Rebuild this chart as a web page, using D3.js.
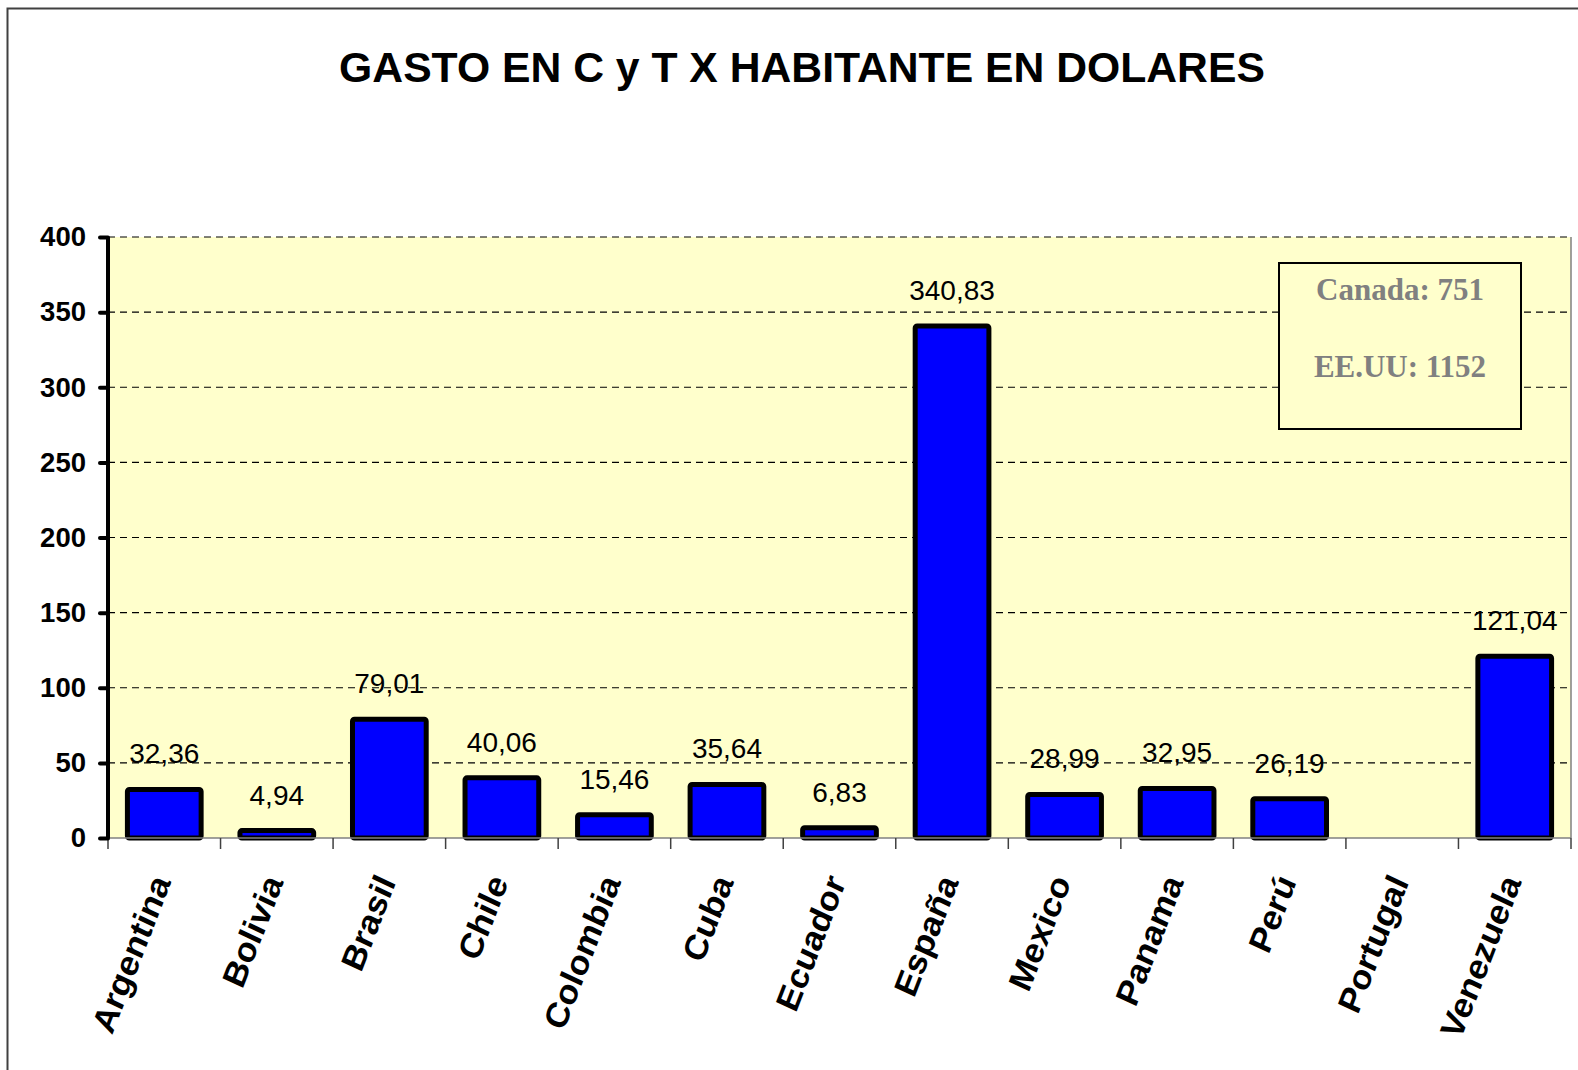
<!DOCTYPE html>
<html>
<head>
<meta charset="utf-8">
<script src="https://cdn.jsdelivr.net/npm/d3@7"></script>
<style>
  body { margin: 0; background: #fff; }
  svg { display: block; font-family: "Liberation Sans", Arial, sans-serif; }
</style>
</head>
<body>
<svg id="chart"></svg>
<script>
// Datos
var paises = ["Argentina", "Bolivia", "Brasil", "Chile", "Colombia", "Cuba", "Ecuador",
  "España", "Mexico", "Panama", "Perú", "Portugal", "Venezuela"];
var gasto = [32.36, 4.94, 79.01, 40.06, 15.46, 35.64, 6.83, 340.83, 28.99, 32.95, 26.19, null, 121.04];
var etiquetas = ["32,36", "4,94", "79,01", "40,06", "15,46", "35,64", "6,83", "340,83", "28,99", "32,95", "26,19", "", "121,04"];
var yTicks = [0, 50, 100, 150, 200, 250, 300, 350, 400];
var notas = ["Canada: 751", "EE.UU: 1152"];

var width = 1578, height = 1070;
var plot = { left: 108, right: 1571, top: 237, bottom: 838 };

var svg = d3.select("#chart")
  .attr("width", width)
  .attr("height", height);

// Marco exterior
svg.append("rect")
  .attr("x", 7.5).attr("y", 8.5)
  .attr("width", width).attr("height", height)
  .attr("fill", "#fff")
  .attr("stroke", "#404040")
  .attr("stroke-width", 2);

// Titulo
svg.append("text")
  .attr("x", 802).attr("y", 82)
  .attr("text-anchor", "middle")
  .attr("font-size", 42.7)
  .attr("font-weight", "bold")
  .text("GASTO EN C y T X HABITANTE EN DOLARES");

var x = d3.scaleBand()
  .domain(paises)
  .range([plot.left, plot.right])
  .paddingInner(0.345)
  .paddingOuter(0.1725);

var y = d3.scaleLinear()
  .domain([0, 400])
  .range([plot.bottom, plot.top]);

// Fondo del area de trazado
svg.append("rect")
  .attr("x", plot.left).attr("y", plot.top)
  .attr("width", plot.right - plot.left)
  .attr("height", plot.bottom - plot.top)
  .attr("fill", "#ffffcc");

// Lineas de division
svg.append("g")
  .selectAll("line")
  .data(yTicks.filter(function(d) { return d > 0; }))
  .enter().append("line")
  .attr("x1", plot.left).attr("x2", plot.right)
  .attr("y1", function(d) { return y(d); })
  .attr("y2", function(d) { return y(d); })
  .attr("stroke", "#000")
  .attr("stroke-width", 1.2)
  .attr("stroke-dasharray", "7,5");

// Borde derecho
svg.append("line")
  .attr("x1", plot.right).attr("x2", plot.right)
  .attr("y1", plot.top).attr("y2", plot.bottom)
  .attr("stroke", "#808080")
  .attr("stroke-width", 1.5);

// Cuadro de notas
var nota = svg.append("g");
nota.append("rect")
  .attr("x", 1279).attr("y", 263)
  .attr("width", 242).attr("height", 166)
  .attr("fill", "#ffffcc")
  .attr("stroke", "#000")
  .attr("stroke-width", 2);
nota.selectAll("text")
  .data(notas)
  .enter().append("text")
  .attr("x", 1400)
  .attr("y", function(d, i) { return 300 + i * 77; })
  .attr("text-anchor", "middle")
  .attr("font-family", "'Liberation Serif', 'Times New Roman', serif")
  .attr("font-weight", "bold")
  .attr("font-size", 31)
  .attr("fill", "#808080")
  .text(function(d) { return d; });

// Barras
var datos = paises.map(function(p, i) {
  return { pais: p, valor: gasto[i], etiqueta: etiquetas[i] };
}).filter(function(d) { return d.valor !== null; });

svg.append("g")
  .selectAll("rect")
  .data(datos)
  .enter().append("rect")
  .attr("x", function(d) { return x(d.pais); })
  .attr("y", function(d) { return y(d.valor); })
  .attr("width", x.bandwidth())
  .attr("height", function(d) { return y(0) - y(d.valor); })
  .attr("rx", 2)
  .attr("fill", "#0000ff")
  .attr("stroke", "#000")
  .attr("stroke-width", 5);

// Etiquetas de datos
svg.append("g")
  .selectAll("text")
  .data(datos)
  .enter().append("text")
  .attr("x", function(d) { return x(d.pais) + x.bandwidth() / 2; })
  .attr("y", function(d) { return y(d.valor) - 26; })
  .attr("text-anchor", "middle")
  .attr("font-size", 28)
  .attr("fill", "#000")
  .text(function(d) { return d.etiqueta; });

// Eje X
var xAxis = svg.append("g");
xAxis.append("line")
  .attr("x1", plot.left).attr("x2", plot.right)
  .attr("y1", plot.bottom).attr("y2", plot.bottom)
  .attr("stroke", "#808080")
  .attr("stroke-width", 1.5);
var bordes = paises.map(function(p) { return x(p) - x.step() * x.paddingInner() / 2; });
bordes.push(plot.right);
xAxis.selectAll(".tick")
  .data(bordes)
  .enter().append("line")
  .attr("class", "tick")
  .attr("x1", function(d) { return d; })
  .attr("x2", function(d) { return d; })
  .attr("y1", plot.bottom).attr("y2", plot.bottom + 11)
  .attr("stroke", "#404040")
  .attr("stroke-width", 1.5);
// etiquetas algo estiradas en vertical, como en el original
xAxis.selectAll("text")
  .data(paises)
  .enter().append("text")
  .attr("transform", function(d) {
    return "translate(" + (x(d) + x.bandwidth() / 2 + 7) + "," + 882 + ") scale(1,1.1) rotate(-67)";
  })
  .attr("text-anchor", "end")
  .attr("font-size", 32.5)
  .attr("font-weight", "bold")
  .text(function(d) { return d; });

// Eje Y
var yAxis = svg.append("g")
  .attr("transform", "translate(" + plot.left + ",0)")
  .call(d3.axisLeft(y).tickValues(yTicks).tickSize(8).tickPadding(14).tickFormat(d3.format("d")));
yAxis.select(".domain")
  .attr("stroke", "#000")
  .attr("stroke-width", 4)
  .attr("d", "M0," + plot.top + "V" + plot.bottom);
yAxis.selectAll(".tick line")
  .attr("stroke", "#000")
  .attr("stroke-width", 4)
  .attr("stroke-linecap", "round");
yAxis.selectAll(".tick text")
  .attr("font-family", "'Liberation Sans', Arial, sans-serif")
  .attr("font-size", 27.5)
  .attr("font-weight", "bold")
  .attr("fill", "#000");
</script>
</body>
</html>
